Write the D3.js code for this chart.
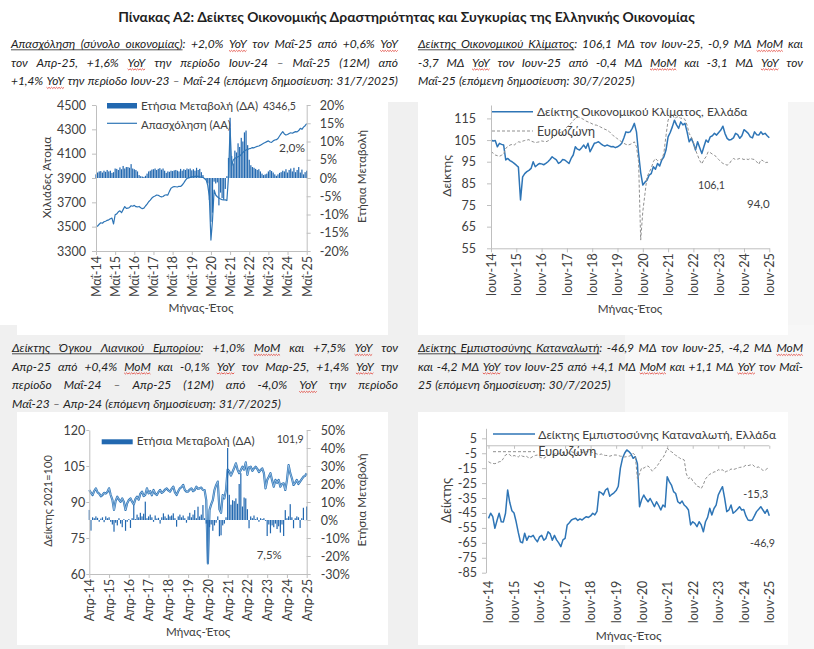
<!DOCTYPE html>
<html lang="el">
<head>
<meta charset="utf-8">
<script src="https://cdn.jsdelivr.net/npm/d3@7/dist/d3.min.js"></script>
<style>
html,body{margin:0;padding:0;background:#fff;}
svg{display:block;}
</style>
</head>
<body>
<svg id="chart" width="814" height="649"></svg>
<script>
// ===================== DATA =====================
// Panel 1: Employment (thousand persons) May-14 .. May-25, and YoY %
const empXLabels = ["Μαΐ-14","Μαΐ-15","Μαΐ-16","Μαΐ-17","Μαΐ-18","Μαΐ-19","Μαΐ-20","Μαΐ-21","Μαΐ-22","Μαΐ-23","Μαΐ-24","Μαΐ-25"];
const empLTicks = [3300,3500,3700,3900,4100,4300,4500];
const empRTicks = [-20,-15,-10,-5,0,5,10,15,20];
const empLevel = [
 3497,3505,3520,3532,3528,3540,3545,3552,
 3556,3565,3570,3522,3598,3605,3622,3630,3615,3640,3665,3650,
 3652,3658,3672,3668,3675,3664,3662,3666,3655,3648,3652,3670,
 3685,3705,3718,3735,3746,3752,3760,3758,3750,3745,3748,3758,
 3762,3760,3790,3816,3825,3830,3828,3826,3832,3830,3842,3860,
 3880,3897,3900,3905,3911,3908,3913,3916,3914,3910,3905,3906,
 3895,3884,3840,3746,3390,3555,3801,3760,3746,3735,3727,3722,
 3719,3720,3715,3911,4308,4000,4048,4062,4068,4075,4080,4095,
 4110,4122,4130,4135,4140,4144,4150,4148,4155,4160,4163,4170,
 4178,4185,4192,4199,4205,4196,4193,4205,4212,4215,4225,4245,
 4265,4281,4262,4253,4258,4266,4272,4268,4275,4281,4279,4290,
 4308,4300,4318,4330,4346.5];
const empYoY = [
 1.0,1.5,1.8,1.9,1.5,2.0,1.7,2.2,
 1.8,2.0,1.4,1.6,2.6,2.5,2.2,2.9,2.4,3.3,2.6,3.0,
 3.0,2.8,3.8,2.6,2.4,2.2,1.8,0.8,0.5,0.4,0.3,0.6,
 1.2,1.8,2.0,2.3,2.4,2.6,2.2,2.5,2.7,2.3,2.6,2.0,
 1.4,1.8,1.7,2.0,1.9,2.1,2.2,2.0,1.8,2.5,2.0,2.4,
 2.2,2.6,2.4,2.6,2.1,2.4,2.0,2.8,2.2,2.5,1.6,0.8,
 -0.3,-0.6,-1.5,-6.0,-12.0,-9.5,-1.0,-1.5,-1.2,-7.5,-4.0,-5.5,
 -6.0,-3.0,0.5,5.5,16.5,6.0,4.0,7.5,7.0,9.5,8.5,11.0,
 10.0,12.5,13.0,9.0,5.0,3.5,3.0,2.8,2.5,2.2,2.4,1.8,
 1.2,0.8,1.0,1.2,1.8,2.2,1.9,1.5,1.0,0.6,1.0,1.4,
 1.6,2.0,1.8,2.4,1.5,2.2,2.6,1.8,2.8,1.6,2.2,3.0,
 1.5,2.3,1.0,1.6,2.0];

// Panel 2: Economic Sentiment Indicator Jun-14 .. Jun-25
const monXLabels = ["Ιουν-14","Ιουν-15","Ιουν-16","Ιουν-17","Ιουν-18","Ιουν-19","Ιουν-20","Ιουν-21","Ιουν-22","Ιουν-23","Ιουν-24","Ιουν-25"];
const esiTicks = [55,65,75,85,95,105,115];
const esiGR = [
 105.0,104.6,104.8,101.9,103.5,103.0,102.7,95.8,96.5,95.5,95.0,94.2,
 93.4,92.5,77.3,88.0,89.5,90.4,91.0,91.9,95.0,92.7,93.5,94.2,
 94.0,93.6,94.2,95.0,96.0,97.3,96.5,95.8,94.2,94.8,96.0,95.8,
 95.0,94.2,96.5,98.1,101.9,100.8,100.4,101.5,102.7,101.2,103.5,99.6,
 101.5,103.5,103.8,104.2,103.4,102.7,102.2,102.7,102.3,101.9,102.0,101.5,
 101.9,102.5,103.5,106.0,108.8,108.5,108.8,110.4,112.7,108.8,98.8,90.0,
 84.2,85.5,86.5,88.8,89.5,92.7,91.5,94.2,93.0,95.8,97.3,100.4,
 106.5,108.5,111.1,114.2,112.0,110.4,113.4,112.0,112.7,108.8,104.2,105.8,
 103.5,100.4,104.2,101.5,98.8,102.0,105.0,104.0,106.5,107.0,108.1,107.3,
 108.5,109.6,111.4,108.0,105.8,105.0,105.3,106.0,108.1,107.5,105.8,107.0,
 109.8,109.0,108.1,106.5,106.0,108.8,107.5,107.3,108.8,107.6,108.1,107.0,
 106.1];
const esiEZ = [
 99.6,99.0,98.1,97.8,97.5,98.0,98.5,101.2,102.0,102.7,103.0,102.7,
 103.5,104.2,104.0,104.5,104.8,105.0,105.2,104.5,104.2,103.8,104.0,104.2,
 104.6,104.4,104.2,104.6,105.2,106.0,106.5,107.5,108.0,108.5,109.0,109.6,
 111.0,112.0,112.7,114.0,115.0,115.7,115.5,115.0,114.5,113.8,113.4,113.0,
 112.5,112.0,111.9,111.5,111.0,110.5,110.0,109.6,109.0,108.0,107.0,106.5,
 105.5,104.8,104.2,103.5,103.0,102.7,103.0,103.5,104.2,101.9,95.0,58.8,
 72.0,80.0,88.0,90.0,92.0,95.0,96.5,95.5,95.8,96.0,99.0,107.0,
 114.2,116.0,117.0,115.0,115.5,116.0,115.0,115.2,114.5,111.9,108.0,106.5,
 104.0,100.4,98.0,95.5,94.0,96.0,97.3,99.6,99.2,98.5,98.1,97.0,
 96.0,95.0,94.2,93.8,93.4,94.0,95.5,96.5,96.0,96.2,96.5,96.4,
 96.0,96.3,96.0,96.5,96.2,96.0,95.0,93.8,95.8,95.5,94.5,94.8,
 94.0];

// Panel 3: Retail trade volume index (2021=100) Apr-14 .. Apr-25, and YoY %
const retXLabels = ["Απρ-14","Απρ-15","Απρ-16","Απρ-17","Απρ-18","Απρ-19","Απρ-20","Απρ-21","Απρ-22","Απρ-23","Απρ-24","Απρ-25"];
const retLTicks = [60,75,90,105,120];
const retRTicks = [-30,-20,-10,0,10,20,30,40,50];
const retIdx = [
 95.0,93.8,92.9,94.6,95.7,94.0,93.5,92.4,92.9,93.8,93.5,94.2,
 95.7,92.9,91.0,86.7,90.5,92.2,91.0,90.1,91.5,90.0,86.7,89.5,
 90.8,91.5,90.1,89.0,91.2,92.2,91.0,93.5,94.3,92.5,93.0,95.7,
 93.6,94.5,92.8,95.0,93.5,92.9,94.2,95.0,93.8,94.3,95.2,95.7,
 94.8,94.3,95.5,96.4,94.0,92.9,94.5,95.7,96.2,97.1,95.0,94.3,
 94.3,95.2,95.7,94.5,95.0,96.4,95.5,95.7,96.0,95.0,95.0,90.8,
 64.4,86.7,89.0,90.8,95.0,97.0,98.5,87.0,85.5,92.9,91.5,95.0,
 103.5,102.8,101.0,102.6,104.2,106.1,103.5,102.0,103.3,104.7,103.5,106.5,
 101.3,104.5,104.7,103.0,104.0,104.7,103.8,102.5,103.3,104.0,102.0,95.7,
 99.2,100.5,102.0,99.0,96.4,99.2,98.0,99.2,96.4,97.5,97.8,95.0,
 99.0,105.4,102.0,99.9,97.1,98.0,99.2,97.5,98.5,99.5,100.5,100.9,
 101.9];
const retYoY = [
 5.6,-5.9,1.5,1.0,2.0,1.2,-1.0,0.8,1.5,-1.2,2.0,1.0,
 1.5,-1.0,-2.5,-6.5,-1.5,-3.0,1.0,-2.0,-4.0,0.5,-6.0,-1.0,
 0.5,-4.4,1.0,8.3,0.5,3.0,1.5,4.0,2.0,3.5,10.2,1.0,
 2.0,3.0,1.5,-1.0,2.5,0.8,1.2,-2.0,1.5,3.7,2.0,1.0,
 3.0,2.0,2.5,3.7,1.0,-3.7,2.0,3.0,1.5,2.5,1.0,-1.5,
 2.0,4.0,1.5,3.0,5.5,1.0,7.4,2.0,3.0,8.3,1.0,-2.0,
 -24.0,-4.0,-2.5,-6.0,-3.0,-1.5,2.0,-9.0,-8.5,-3.0,-2.0,1.5,
 40.0,14.0,8.5,11.0,10.5,12.0,9.0,20.0,26.0,7.5,12.5,12.0,
 6.0,-4.6,2.0,1.0,2.5,0.5,1.5,-1.0,1.0,0.5,1.0,-0.5,
 -8.9,-2.5,-7.4,-3.0,-4.0,-2.0,-5.0,-3.5,-7.0,-2.5,-8.9,5.5,
 1.0,2.0,8.8,1.5,-4.6,1.0,2.0,1.5,-4.4,1.0,6.8,-0.1,
 7.5];

// Panel 4: Consumer confidence Jun-14 .. Jun-25
const cciTicks = [-85,-75,-65,-55,-45,-35,-25,-15,-5,5];
const cciGR = [
 -48.6,-45.2,-47.5,-55.3,-50.0,-45.2,-50.9,-51.0,-45.2,-29.6,-38.0,-43.5,
 -45.0,-50.9,-58.0,-64.3,-65.0,-58.6,-63.3,-60.5,-61.0,-60.0,-62.5,-64.3,
 -61.0,-60.0,-63.3,-62.0,-57.6,-59.0,-63.3,-60.0,-63.0,-65.0,-67.6,-63.0,
 -62.0,-53.0,-51.5,-49.7,-49.0,-48.6,-50.0,-49.0,-49.7,-48.5,-47.5,-48.0,
 -47.0,-45.2,-46.3,-44.0,-30.7,-31.5,-32.9,-29.6,-28.5,-33.8,-32.5,-31.5,
 -30.0,-27.1,-15.0,-8.4,-5.0,-2.8,-3.9,-5.5,-8.4,-7.3,-12.0,-40.8,
 -36.0,-33.0,-35.5,-37.5,-35.3,-38.0,-40.8,-37.5,-40.0,-43.0,-39.7,-41.0,
 -20.7,-24.0,-26.3,-30.7,-32.0,-37.5,-38.6,-37.0,-39.7,-41.0,-43.0,-53.0,
 -50.9,-52.0,-54.2,-50.9,-53.0,-57.6,-50.9,-48.0,-41.9,-46.3,-42.0,-39.7,
 -33.0,-30.0,-27.4,-35.0,-44.1,-43.0,-39.7,-45.2,-44.0,-42.5,-40.8,-43.0,
 -42.7,-47.0,-49.7,-50.0,-49.7,-47.0,-44.1,-42.5,-40.8,-43.0,-45.2,-42.7,
 -46.9];
const cciEZ = [
 -10.7,-11.5,-11.8,-12.0,-11.5,-10.7,-10.5,-8.5,-6.2,-5.5,-6.0,-7.3,
 -6.5,-7.0,-7.5,-6.2,-7.0,-7.3,-7.0,-8.5,-8.0,-7.0,-6.5,-6.2,
 -7.5,-8.0,-8.5,-7.5,-6.5,-6.2,-6.0,-5.5,-5.0,-5.5,-5.0,-4.5,
 -5.0,-4.5,-5.0,-4.0,-4.5,-5.0,-5.0,-4.0,-4.5,-4.5,-4.0,-4.0,
 -4.0,-4.5,-5.0,-5.5,-6.0,-5.5,-6.2,-6.5,-6.5,-7.0,-6.5,-6.2,
 -6.2,-6.5,-7.0,-7.0,-7.5,-7.3,-7.0,-6.5,-5.0,-6.6,-22.0,-18.8,
 -14.7,-15.0,-14.0,-13.5,-15.1,-17.0,-15.5,-14.0,-12.0,-9.5,-8.0,-5.5,
 -1.5,-3.3,-4.0,-5.0,-6.5,-7.0,-8.5,-8.8,-9.5,-18.8,-22.0,-21.0,
 -23.5,-25.0,-27.0,-27.5,-28.7,-26.0,-22.2,-20.5,-19.0,-18.5,-17.5,-17.4,
 -16.0,-16.5,-16.0,-17.8,-17.0,-16.7,-15.5,-16.0,-15.5,-15.0,-14.5,-14.3,
 -14.0,-13.0,-13.3,-12.9,-12.5,-13.8,-14.5,-14.2,-15.2,-16.5,-16.5,-15.2,
 -15.3];

// Texts
const titleText = "Πίνακας Α2: Δείκτες Οικονομικής Δραστηριότητας  και Συγκυρίας της Ελληνικής Οικονομίας";
const paraTL = [
 "Απασχόληση (σύνολο οικονομίας): +2,0% YoY τον Μαΐ-25 από +0,6% YoY",
 "τον Απρ-25, +1,6% YoY την περίοδο Ιουν-24 – Μαΐ-25 (12Μ) από",
 "+1,4% YoY την περίοδο Ιουν-23 – Μαΐ-24 (επόμενη δημοσίευση: 31/7/2025)"];
const paraTR = [
 "Δείκτης Οικονομικού Κλίματος: 106,1 ΜΔ τον Ιουν-25, -0,9 ΜΔ MoM και",
 "-3,7 ΜΔ YoY τον Ιουν-25 από -0,4 ΜΔ MoM και -3,1 ΜΔ YoY τον",
 "Μαΐ-25 (επόμενη δημοσίευση: 30/7/2025)"];
const paraBL = [
 "Δείκτης Όγκου Λιανικού Εμπορίου: +1,0% MoM και +7,5% YoY τον",
 "Απρ-25 από +0,4% MoM και -0,1% YoY τον Μαρ-25, +1,4% YoY την",
 "περίοδο Μαΐ-24 – Απρ-25 (12Μ) από -4,0% YoY την περίοδο",
 "Μαΐ-23 – Απρ-24 (επόμενη δημοσίευση: 31/7/2025)"];
const paraBR = [
 "Δείκτης Εμπιστοσύνης Καταναλωτή: -46,9 ΜΔ τον Ιουν-25, -4,2 ΜΔ MoM",
 "και -4,2 ΜΔ YoY τον Ιουν-25 από +4,1 ΜΔ MoM και +1,1 ΜΔ YoY τον Μαΐ-",
 "25 (επόμενη δημοσίευση: 30/7/2025)"];

// ===================== DRAWING =====================
const svg = d3.select("#chart");
const FONT = "Lato, 'Open Sans', 'DejaVu Sans', sans-serif";
const AX = "#bfbfbf", TX = "#404040", PTX = "#222";
const BLUE = "#2e75b6", BAR = "#2268b0", EZC = "#8f8f8f";
const FS = 12.5, PFS = 12;
const comma = v => d3.format(".1f")(v).replace(".", ",").replace("\u2212", "-");

// backgrounds
[[388,102,30,547,"#f0f0f0"],[0,325,625,324,"#f0f0f0"],[625,325,189,324,"#f7f7f7"],[788,102,26,223,"#f5f5f5"]]
 .forEach(r => svg.append("rect").attr("x",r[0]).attr("y",r[1]).attr("width",r[2]).attr("height",r[3]).attr("fill",r[4]));
[[17,100,371,235],[418,102,370,233],[17,412,371,233],[418,412,370,233]]
 .forEach(r => svg.append("rect").attr("x",r[0]).attr("y",r[1]).attr("width",r[2]).attr("height",r[3]).attr("fill","#fff"));

function fit(t, target, base, lo=0.85, hi=1.15) {
  const w = t.node().getComputedTextLength();
  if (w > 0) { const k = Math.max(lo, Math.min(hi, target / w)); t.attr("font-size", base * k); }
  return t;
}
function txt(p, s, x, y, o = {}) {
  const fs = o.fs || FS;
  const t = p.append("text").attr("x", x).attr("y", y).text(s)
    .attr("font-family", FONT).attr("font-size", fs).attr("fill", o.fill || TX)
    .attr("text-anchor", o.anchor || "start");
  if (o.weight) t.attr("font-weight", o.weight);
  if (o.w) fit(t, o.w, fs, o.lo, o.hi);
  return t;
}
function vtxt(p, s, bx, cy, w) {
  const t = p.append("text").attr("transform", `translate(${bx},${cy}) rotate(-90)`)
    .attr("text-anchor", "middle").attr("font-family", FONT).attr("font-size", FS).attr("fill", TX).text(s);
  if (w) fit(t, w, FS);
  return t;
}
function styleAxis(g) {
  g.attr("font-family", FONT).attr("font-size", FS);
  g.select(".domain").attr("stroke", AX);
  g.selectAll(".tick line").attr("stroke", AX);
  g.selectAll(".tick text").attr("fill", TX);
}
function rotateX(g, gap) {
  g.selectAll(".tick text").attr("transform", "rotate(-90)").attr("text-anchor", "end")
    .attr("x", -gap).attr("y", 0).attr("dy", "0.35em");
}
function squiggle(g, x0, x1, y) {
  const p = d3.path(); p.moveTo(x0, y); let k = 0;
  for (let xx = x0 + 1.25; xx <= x1 + 0.01; xx += 1.25) { k++; p.lineTo(xx, y + (k % 2 ? 1.2 : 0)); }
  g.append("path").attr("d", p.toString()).attr("fill", "none").attr("stroke", "#e0392e").attr("stroke-width", 0.8);
}
function paragraph(lines, x, w, bases, just) {
  const g = svg.append("g").attr("font-family", FONT).attr("font-style", "italic")
    .attr("font-size", PFS).attr("fill", PTX);
  const meas = s => { const t = g.append("text").text(s); const v = t.node().getComputedTextLength(); t.remove(); return v; };
  lines.forEach((line, li) => {
    const toks = line.split(" ");
    const nodes = toks.map(t => g.append("text").attr("y", bases[li]).text(t));
    const ws = nodes.map(n => n.node().getComputedTextLength());
    const sum = d3.sum(ws), sp = PFS * 0.27;
    let gap = sp, sx = 1;
    if (just[li] && toks.length > 1) {
      gap = (w - sum) / (toks.length - 1);
      if (gap < sp) { gap = sp; sx = (w - gap * (toks.length - 1)) / sum; }
    }
    let cx = x; const pos = [];
    nodes.forEach((n, i) => { pos.push(cx); n.attr("transform", `translate(${cx},0) scale(${sx},1)`); cx += ws[i] * sx + gap; });
    if (li === 0) {
      const k = toks.findIndex(t => t.endsWith(":"));
      const wk = meas(toks[k].slice(0, -1));
      g.append("line").attr("x1", pos[0]).attr("x2", pos[k] + wk * sx)
        .attr("y1", bases[0] + 1.8).attr("y2", bases[0] + 1.8).attr("stroke", PTX).attr("stroke-width", 0.8);
    }
    toks.forEach((t, i) => {
      const m = t.match(/^(YoY|MoM)/);
      if (m) squiggle(g, pos[i], pos[i] + meas(m[1]) * sx, bases[li] + 2.3);
    });
  });
}

// title
txt(svg, titleText, 406.5, 22, {anchor: "middle", weight: "bold", fs: 13.5, fill: "#1e1e1e", w: 577, lo: 0.7, hi: 1.3});

// paragraphs
paragraph(paraTL, 11, 387, [48, 66.5, 85], [true, true, true]);
paragraph(paraTR, 418, 385, [48, 66.5, 85], [true, true, false]);
paragraph(paraBL, 12, 386, [352, 370.5, 389, 407.5], [true, true, true, false]);
paragraph(paraBR, 418, 385, [352, 370.5, 389], [true, true, false]);

const xTickIdx = d3.range(0, 133, 12);

// ---------- Panel 1 ----------
{
  const g = svg.append("g");
  const X0 = 96, X1 = 306.7, YB = 251, YT = 105;
  const x = d3.scaleLinear().domain([0, empLevel.length - 1]).range([X0, X1]);
  const yL = d3.scaleLinear().domain([3300, 4500]).range([YB, YT]);
  const yR = d3.scaleLinear().domain([-20, 20]).range([YB, YT]);
  g.selectAll("rect.b").data(empYoY).join("rect").attr("class", "b")
    .attr("x", (d, i) => x(i) - 0.6).attr("width", 1.2)
    .attr("y", d => Math.min(yR(d), yR(0))).attr("height", d => Math.abs(yR(d) - yR(0))).attr("fill", BAR);
  g.append("path").datum(empLevel).attr("fill", "none").attr("stroke", BLUE).attr("stroke-width", 1.2)
    .attr("stroke-linejoin", "round").attr("d", d3.line().x((d, i) => x(i)).y(d => yL(d)));
  const aL = g.append("g").attr("transform", `translate(${X0},0)`)
    .call(d3.axisLeft(yL).tickValues(empLTicks).tickSize(4).tickSizeOuter(0).tickPadding(6).tickFormat(d => String(d)));
  styleAxis(aL);
  const aR = g.append("g").attr("transform", `translate(${X1},0)`)
    .call(d3.axisRight(yR).tickValues(empRTicks).tickSize(4).tickSizeOuter(0).tickPadding(9).tickFormat(d => d + "%"));
  styleAxis(aR);
  const aB = g.append("g").attr("transform", `translate(0,${YB})`)
    .call(d3.axisBottom(x).tickValues(xTickIdx).tickSize(4).tickSizeOuter(0).tickFormat((d, i) => empXLabels[i]));
  styleAxis(aB); rotateX(aB, 5);
  vtxt(g, "Χιλιάδες Άτομα", 51, 177.5, 81.6);
  vtxt(g, "Ετήσια Μεταβολή", 366, 176.5, 93);
  txt(g, "Μήνας-Έτος", 201, 312, {anchor: "middle", w: 65});
  // legend
  g.append("rect").attr("x", 107).attr("y", 103).attr("width", 30).attr("height", 5.5).attr("fill", BAR);
  txt(g, "Ετήσια Μεταβολή (ΔΑ)", 141, 110, {w: 117});
  g.append("line").attr("x1", 107).attr("x2", 137).attr("y1", 123.3).attr("y2", 123.3).attr("stroke", BLUE).attr("stroke-width", 1.2);
  txt(g, "Απασχόληση (ΑΑ)", 141, 128.5, {w: 90});
  txt(g, comma(empLevel[empLevel.length - 1]), 263, 110, {fs: 12, w: 33});
  txt(g, comma(empYoY[empYoY.length - 1]) + "%", 279, 151.5, {w: 26});
}

// ---------- Panel 2 ----------
{
  const g = svg.append("g");
  const X0 = 491, X1 = 769.3, YB = 248.3, YT = 105;
  const x = d3.scaleLinear().domain([0, esiGR.length - 1]).range([X0, X1]);
  const y = d3.scaleLinear().domain([55, 121.2]).range([YB, YT]);
  const line = d3.line().x((d, i) => x(i)).y(d => y(d));
  g.append("path").datum(esiGR).attr("fill", "none").attr("stroke", BLUE).attr("stroke-width", 1.5).attr("stroke-linejoin", "round").attr("d", line);
  g.append("path").datum(esiEZ).attr("fill", "none").attr("stroke", EZC).attr("stroke-width", 1).attr("stroke-dasharray", "3,2").attr("d", line);
  const aL = g.append("g").attr("transform", `translate(${X0},0)`)
    .call(d3.axisLeft(y).tickValues(esiTicks).tickSize(4).tickSizeOuter(0).tickPadding(11).tickFormat(d => String(d)));
  styleAxis(aL);
  const aB = g.append("g").attr("transform", `translate(0,${YB})`)
    .call(d3.axisBottom(x).tickValues(xTickIdx).tickSize(4).tickSizeOuter(0).tickFormat((d, i) => monXLabels[i]));
  styleAxis(aB); rotateX(aB, 5);
  vtxt(g, "Δείκτης", 451, 176, 41.7);
  txt(g, "Μήνας-Έτος", 630, 313, {anchor: "middle", w: 64.6});
  g.append("line").attr("x1", 492).attr("x2", 533).attr("y1", 111.7).attr("y2", 111.7).attr("stroke", BLUE).attr("stroke-width", 1.5);
  txt(g, "Δείκτης Οικονομικού Κλίματος, Ελλάδα", 537, 116, {w: 210.6});
  g.append("line").attr("x1", 492).attr("x2", 533).attr("y1", 131).attr("y2", 131).attr("stroke", EZC).attr("stroke-dasharray", "3,2");
  txt(g, "Ευρωζώνη", 537, 136, {w: 58});
  txt(g, comma(esiGR[esiGR.length - 1]), 698, 189, {w: 27});
  txt(g, comma(esiEZ[esiEZ.length - 1]), 747, 208, {w: 22.6});
}

// ---------- Panel 3 ----------
{
  const g = svg.append("g");
  const X0 = 89.3, X1 = 306.7, YB = 574, YT = 430;
  const x = d3.scaleLinear().domain([0, retIdx.length - 1]).range([X0, X1]);
  const yL = d3.scaleLinear().domain([60, 120]).range([YB, YT]);
  const yR = d3.scaleLinear().domain([-30, 50]).range([YB, YT]);
  const line = d3.line().x((d, i) => x(i)).y(d => yL(d));
  g.append("path").datum(retIdx).attr("fill", "none").attr("stroke", BLUE).attr("stroke-width", 2.2).attr("stroke-linejoin", "round").attr("d", line);
  g.append("path").datum(retIdx).attr("fill", "none").attr("stroke", "#b7d2ee").attr("stroke-width", 0.7).attr("stroke-linejoin", "round").attr("d", line);
  g.selectAll("rect.b").data(retYoY).join("rect").attr("class", "b")
    .attr("x", (d, i) => x(i) - 0.6).attr("width", 1.2)
    .attr("y", d => Math.min(yR(d), yR(0))).attr("height", d => Math.abs(yR(d) - yR(0))).attr("fill", BAR);
  const aL = g.append("g").attr("transform", `translate(${X0},0)`)
    .call(d3.axisLeft(yL).tickValues(retLTicks).tickSize(3).tickSizeOuter(0).tickPadding(1).tickFormat(d => String(d)));
  styleAxis(aL);
  const aR = g.append("g").attr("transform", `translate(${X1},0)`)
    .call(d3.axisRight(yR).tickValues(retRTicks).tickSize(4).tickSizeOuter(0).tickPadding(10).tickFormat(d => d + "%"));
  styleAxis(aR);
  const aB = g.append("g").attr("transform", `translate(0,${YB})`)
    .call(d3.axisBottom(x).tickValues(xTickIdx).tickSize(4).tickSizeOuter(0).tickFormat((d, i) => retXLabels[i]));
  styleAxis(aB); rotateX(aB, 5);
  vtxt(g, "Δείκτης 2021=100", 51.5, 501, 91.7);
  vtxt(g, "Ετήσια Μεταβολή", 366, 500, 93);
  txt(g, "Μήνας-Έτος", 198, 636, {anchor: "middle", w: 64.3});
  g.append("rect").attr("x", 101.7).attr("y", 439.3).attr("width", 31).attr("height", 5).attr("fill", BAR);
  txt(g, "Ετήσια Μεταβολή (ΔΑ)", 136.7, 445, {w: 118});
  txt(g, comma(retIdx[retIdx.length - 1]), 276.7, 443, {w: 26.6});
  txt(g, comma(retYoY[retYoY.length - 1]) + "%", 256.7, 559, {w: 25});
}

// ---------- Panel 4 ----------
{
  const g = svg.append("g");
  const X0 = 488.5, X1 = 769.3, YB = 572.7, YT = 428.3, AXX = 486;
  const x = d3.scaleLinear().domain([0, cciGR.length - 1]).range([X0, X1]);
  const y = d3.scaleLinear().domain([-85, 11.7]).range([YB, YT]);
  const line = d3.line().x((d, i) => x(i)).y(d => y(d));
  const a0 = g.append("g").attr("transform", `translate(0,${y(0)})`)
    .call(d3.axisBottom(x).tickValues(xTickIdx).tickSize(3).tickSizeOuter(0).tickFormat(""));
  styleAxis(a0);
  a0.select(".domain").attr("d", `M${AXX},0H${X1}`);
  g.append("path").datum(cciGR).attr("fill", "none").attr("stroke", BLUE).attr("stroke-width", 1.5).attr("stroke-linejoin", "round").attr("d", line);
  g.append("path").datum(cciEZ).attr("fill", "none").attr("stroke", EZC).attr("stroke-width", 1).attr("stroke-dasharray", "3,2").attr("d", line);
  const aL = g.append("g").attr("transform", `translate(${AXX},0)`)
    .call(d3.axisLeft(y).tickValues(cciTicks).tickSize(4).tickSizeOuter(0).tickPadding(5).tickFormat(d => String(d)));
  styleAxis(aL);
  const aB = g.append("g").attr("transform", `translate(0,${YB})`)
    .call(d3.axisBottom(x).tickValues(xTickIdx).tickSize(0).tickSizeOuter(0).tickFormat((d, i) => monXLabels[i]));
  styleAxis(aB); aB.select(".domain").remove(); rotateX(aB, 8);
  vtxt(g, "Δείκτης", 451, 500.5, 45);
  txt(g, "Μήνας-Έτος", 628.7, 640, {anchor: "middle", w: 66});
  g.append("line").attr("x1", 493).attr("x2", 535).attr("y1", 434).attr("y2", 434).attr("stroke", BLUE).attr("stroke-width", 1.5);
  txt(g, "Δείκτης Εμπιστοσύνης Καταναλωτή, Ελλάδα", 538.3, 438.5, {w: 238});
  g.append("line").attr("x1", 493).attr("x2", 535).attr("y1", 451.7).attr("y2", 451.7).attr("stroke", EZC).attr("stroke-dasharray", "3,2");
  txt(g, "Ευρωζώνη", 538.3, 456, {w: 58});
  txt(g, comma(cciEZ[cciEZ.length - 1]), 743.3, 498, {w: 25});
  txt(g, comma(cciGR[cciGR.length - 1]), 750, 546.5, {w: 25});
}

// sanity check on series lengths
[empLevel, empYoY, esiGR, esiEZ, retIdx, retYoY, cciGR, cciEZ].forEach((a, i) => {
  if (a.length !== 133) svg.append("text").attr("x", 5).attr("y", 640 - i * 12).attr("fill", "red").attr("font-size", 10).text("len " + i + ": " + a.length);
});
</script>
</body>
</html>
